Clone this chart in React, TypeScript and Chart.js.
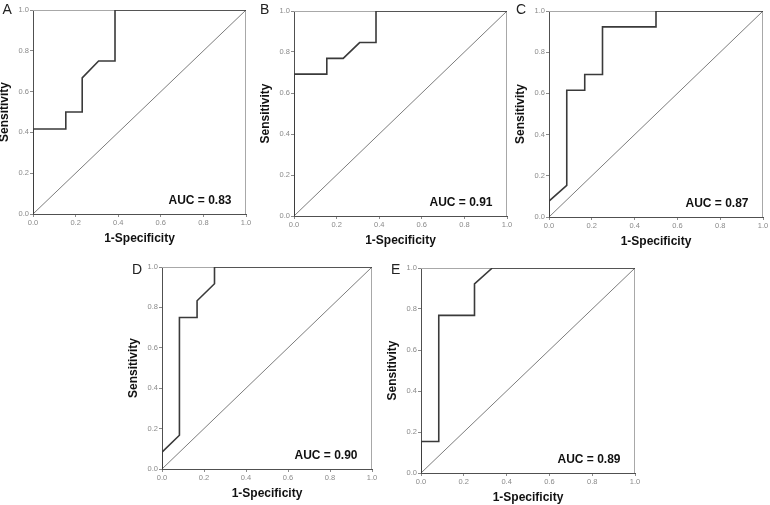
import React, { useEffect, useRef } from "react";
import { Chart, registerables } from "chart.js";

Chart.register(...registerables);

// ---------- data ----------
const panelLetters = ["A", "B", "C", "D", "E"];
const aucLabels = ["0.83", "0.91", "0.87", "0.90", "0.89"];
const axisTicks = [0, 0.2, 0.4, 0.6, 0.8, 1.0];
const xAxisTitle = "1-Specificity";
const yAxisTitle = "Sensitivity";
const refX = [0, 1];
const refY = [0, 1];

const fprA = [0, 0, 0.154, 0.154, 0.231, 0.231, 0.308, 0.385, 0.385, 1];
const tprA = [0, 0.417, 0.417, 0.5, 0.5, 0.667, 0.75, 0.75, 1, 1];

const fprB = [0, 0, 0.154, 0.154, 0.231, 0.308, 0.385, 0.385, 1];
const tprB = [0, 0.692, 0.692, 0.769, 0.769, 0.846, 0.846, 1, 1];

const fprC = [0, 0, 0.083, 0.083, 0.167, 0.167, 0.25, 0.25, 0.5, 0.5, 1];
const tprC = [0, 0.077, 0.154, 0.615, 0.615, 0.692, 0.692, 0.923, 0.923, 1, 1];

const fprD = [0, 0, 0.083, 0.083, 0.167, 0.167, 0.25, 0.25, 1];
const tprD = [0, 0.083, 0.167, 0.75, 0.75, 0.833, 0.917, 1, 1];

const fprE = [0, 0, 0.083, 0.083, 0.25, 0.25, 0.333, 1];
const tprE = [0, 0.154, 0.154, 0.769, 0.769, 0.923, 1, 1];

const seriesFpr = [fprA, fprB, fprC, fprD, fprE];
const seriesTpr = [tprA, tprB, tprC, tprD, tprE];

// ---------- layout (page pixels) ----------
const plotBoxes = [
  { l: 33, t: 10, r: 246, b: 214 },
  { l: 294, t: 11, r: 507, b: 216 },
  { l: 549, t: 11, r: 763, b: 217 },
  { l: 162, t: 267, r: 372, b: 469 },
  { l: 421, t: 268, r: 635, b: 473 },
];
const letterBoxes = [
  { x: 2.5, y: 2 },
  { x: 260, y: 1.5 },
  { x: 516, y: 2 },
  { x: 132, y: 261.5 },
  { x: 391, y: 261.5 },
];

const FONT = 'Arial, "Liberation Sans", sans-serif';
const Y_AXIS_W = 34;
const X_AXIS_H = 34;
const PAD_T = 8;
const PAD_R = 10;

function makeFramePlugin(auc: string) {
  return {
    id: "frameAuc",
    beforeDatasetsDraw(chart: any) {
      const { ctx, chartArea } = chart;
      const { left, right, top, bottom } = chartArea;
      ctx.save();
      ctx.strokeStyle = "#a8a8a8";
      ctx.lineWidth = 1;
      ctx.beginPath();
      ctx.moveTo(left, top + 0.5);
      ctx.lineTo(right, top + 0.5);
      ctx.moveTo(right - 0.5, top);
      ctx.lineTo(right - 0.5, bottom);
      ctx.stroke();
      ctx.restore();
    },
    afterDraw(chart: any) {
      const { ctx, chartArea } = chart;
      ctx.save();
      ctx.font = `bold 12px ${FONT}`;
      ctx.fillStyle = "#111";
      ctx.textAlign = "right";
      ctx.textBaseline = "middle";
      ctx.fillText(`AUC = ${auc}`, chartArea.right - 14.5, chartArea.bottom - 13);
      ctx.restore();
    },
  };
}

function RocPanel({ idx }: { idx: number }) {
  const ref = useRef<HTMLCanvasElement | null>(null);
  const box = plotBoxes[idx];
  const w = box.r - box.l + Y_AXIS_W + PAD_R;
  const h = box.b - box.t + PAD_T + X_AXIS_H;

  useEffect(() => {
    if (!ref.current) return;
    const fpr = seriesFpr[idx];
    const tpr = seriesTpr[idx];
    const tickCfg = {
      callback: (v: any) => Number(v).toFixed(1),
      font: { size: 7.5, family: FONT },
      color: "#8a8a8a",
      padding: 1,
      maxRotation: 0,
      autoSkip: false,
    };
    const gridCfg = {
      drawOnChartArea: false,
      drawTicks: true,
      tickLength: 3,
      color: "#8a8a8a",
    };
    const chart = new Chart(ref.current, {
      type: "scatter",
      data: {
        datasets: [
          {
            data: fpr.map((x, i) => ({ x, y: tpr[i] })),
            showLine: true,
            borderColor: "#3a3a3a",
            borderWidth: 1.6,
            pointRadius: 0,
            order: 0,
          },
          {
            data: refX.map((x, i) => ({ x, y: refY[i] })),
            showLine: true,
            borderColor: "#5a5a5a",
            borderWidth: 0.8,
            pointRadius: 0,
            order: 1,
          },
        ],
      },
      options: {
        responsive: false,
        animation: false,
        devicePixelRatio: 1,
        layout: { padding: { top: PAD_T, right: PAD_R, left: 0, bottom: 0 } },
        plugins: {
          legend: { display: false },
          tooltip: { enabled: false },
          title: { display: false },
        },
        scales: {
          x: {
            type: "linear",
            min: 0,
            max: 1,
            afterBuildTicks: (s: any) => {
              s.ticks = axisTicks.map((v) => ({ value: v }));
            },
            afterFit: (s: any) => {
              s.height = X_AXIS_H;
            },
            ticks: tickCfg,
            grid: gridCfg,
            border: { display: true, color: "#505050", width: 1 },
            title: {
              display: true,
              text: xAxisTitle,
              color: "#111",
              font: { size: 12, weight: "bold", family: FONT, lineHeight: 1 },
              padding: { top: 0, bottom: 3 },
            },
          },
          y: {
            type: "linear",
            min: 0,
            max: 1,
            afterBuildTicks: (s: any) => {
              s.ticks = axisTicks.map((v) => ({ value: v }));
            },
            afterFit: (s: any) => {
              s.width = Y_AXIS_W;
            },
            ticks: tickCfg,
            grid: gridCfg,
            border: { display: true, color: "#505050", width: 1 },
            title: {
              display: true,
              text: yAxisTitle,
              color: "#111",
              font: { size: 12, weight: "bold", family: FONT, lineHeight: 1 },
              padding: { top: 0, bottom: 0 },
            },
          },
        },
      } as any,
      plugins: [makeFramePlugin(aucLabels[idx])],
    });
    return () => chart.destroy();
  }, [idx]);

  return (
    <canvas
      ref={ref}
      width={w}
      height={h}
      style={{
        position: "absolute",
        left: box.l - Y_AXIS_W,
        top: box.t - PAD_T,
        width: w,
        height: h,
      }}
    />
  );
}

export default function App() {
  return (
    <div
      style={{
        position: "absolute",
        left: 0,
        top: 0,
        width: 770,
        height: 505,
        background: "#fff",
        overflow: "hidden",
      }}
    >
      {plotBoxes.map((_, i) => (
        <RocPanel key={i} idx={i} />
      ))}
      {panelLetters.map((t, i) => (
        <div
          key={t}
          style={{
            position: "absolute",
            left: letterBoxes[i].x,
            top: letterBoxes[i].y,
            fontFamily: FONT,
            fontSize: 14,
            lineHeight: "14px",
            color: "#222",
          }}
        >
          {t}
        </div>
      ))}
    </div>
  );
}
